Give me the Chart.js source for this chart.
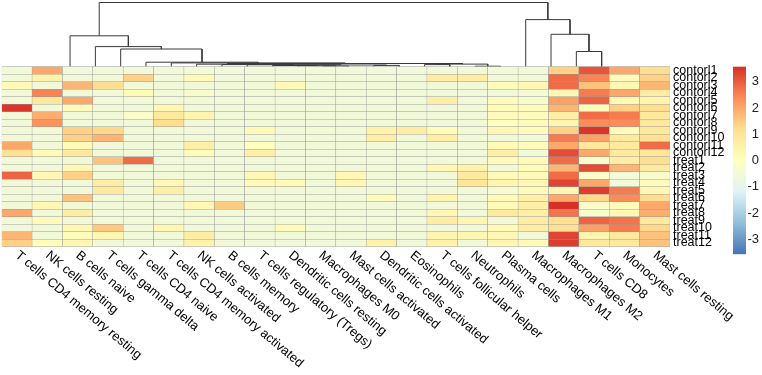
<!DOCTYPE html>
<html lang="en">
<head>
<meta charset="UTF-8">
<title>Immune cell heatmap</title>
<script src="https://cdn.jsdelivr.net/npm/chart.js"></script>
<style>
  html, body { margin: 0; padding: 0; background: #fff; }
</style>
</head>
<body>
<canvas id="heatmap" width="762" height="375"></canvas>
<script>
  // columns (cell types), in dendrogram order
  const cellTypes = [
    "T cells CD4 memory resting", "NK cells resting", "B cells naive", "T cells gamma delta",
    "T cells CD4 naive", "T cells CD4 memory activated", "NK cells activated", "B cells memory",
    "T cells regulatory (Tregs)", "Dendritic cells resting", "Macrophages M0", "Mast cells activated",
    "Dendritic cells activated", "Eosinophils", "T cells follicular helper", "Neutrophils",
    "Plasma cells", "Macrophages M1", "Macrophages M2", "T cells CD8", "Monocytes", "Mast cells resting"
  ];

  const sampleLabels = [
    "contorl1", "contorl2", "contorl3", "contorl4", "contorl5", "contorl6",
    "contorl7", "contorl8", "contorl9", "contorl10", "contorl11", "contorl12",
    "treat1", "treat2", "treat3", "treat4", "treat5", "treat6",
    "treat7", "treat8", "treat9", "treat10", "treat11", "treat12"
  ];

  // scaled values per sample, one row per sample, one value per cell type
  const controlValues = [
    [-0.55, 2.0, -0.55, -0.55, -0.55, -0.55, -0.5, -0.55, -0.55, -0.55, -0.55, -0.55, -0.55, -0.55, -0.55, -0.55, -0.55, -0.55, 1.4, 3.1, 2.0, 1.2],
    [-0.55, 0.5, -0.55, -0.55, 1.4, -0.55, 0.2, -0.55, -0.55, -0.55, -0.55, -0.55, -0.55, -0.55, 0.7, 0.7, -0.55, -0.55, 2.8, 2.5, 0.2, 1.4],
    [0.2, -0.55, 1.8, 1.2, -0.55, -0.55, -0.55, -0.55, -0.55, 0.2, -0.55, -0.55, -0.55, -0.55, -0.55, -0.55, 0.1, 0.3, 2.8, 1.6, 0.3, 1.8],
    [-0.55, 2.5, -0.55, -0.55, 0.2, -0.55, -0.3, -0.55, -0.55, -0.55, -0.55, -0.55, -0.55, -0.55, -0.55, -0.55, -0.55, -0.4, 0.3, 2.6, 2.0, 0.7],
    [-0.55, 0.9, 2.0, -0.55, -0.55, -0.55, -0.55, -0.55, -0.55, -0.55, -0.55, -0.55, -0.55, -0.55, 0.6, -0.55, 0.1, -0.3, 2.1, 2.9, 0.2, 0.4],
    [3.5, -0.55, 0.2, -0.55, -0.55, 0.3, -0.55, -0.55, -0.55, -0.55, -0.55, -0.55, -0.55, -0.55, -0.55, -0.55, 0.1, 0.1, 1.8, 0.2, 1.4, 1.2],
    [-0.55, 1.9, -0.55, -0.55, -0.2, 0.8, 0.4, -0.55, -0.55, -0.55, -0.55, -0.55, -0.55, -0.55, -0.55, -0.55, 0.1, 0.1, 0.6, 2.8, 2.6, 0.9],
    [-0.55, 2.3, -0.55, -0.55, -0.55, 1.2, -0.55, -0.55, -0.55, -0.55, -0.55, -0.55, -0.55, -0.55, -0.55, -0.55, 0.0, 0.1, 0.4, 2.4, 2.4, 0.9],
    [-0.55, -0.55, 1.4, 1.3, -0.55, -0.55, -0.55, -0.55, 0.2, -0.55, -0.45, -0.55, 0.5, 0.7, 0.1, -0.55, 0.3, 0.1, 1.4, 3.5, 0.1, 0.9],
    [-0.55, -0.55, 1.4, 1.8, -0.55, -0.55, -0.55, -0.55, -0.55, -0.55, -0.55, -0.55, 0.6, -0.55, 0.6, -0.55, -0.55, -0.55, 2.6, 2.1, 0.8, 1.1],
    [2.0, -0.55, 0.2, -0.55, -0.55, -0.55, 0.6, -0.55, 0.0, -0.55, -0.55, -0.55, -0.55, -0.55, -0.55, -0.55, 0.2, 0.1, 2.0, 0.9, 0.8, 2.8],
    [1.1, 0.2, 0.8, -0.55, -0.55, -0.55, 0.1, -0.55, 0.6, -0.55, -0.55, -0.55, -0.55, -0.55, -0.55, -0.55, 0.6, -0.55, 3.2, 2.0, 0.8, 0.9]
  ];

  const treatValues = [
    [-0.55, -0.55, -0.55, 1.6, 2.8, -0.55, -0.55, -0.55, -0.55, -0.55, -0.55, -0.55, -0.55, -0.55, -0.55, -0.55, 0.2, 0.2, 2.8, -0.3, 0.7, 1.2],
    [-0.55, -0.55, 0.3, -0.55, -0.55, -0.55, -0.55, -0.55, -0.55, -0.55, -0.55, -0.55, -0.55, -0.55, 0.3, 0.5, -0.55, 0.1, 1.8, 3.2, 1.8, 0.8],
    [2.9, 0.3, 1.4, -0.55, -0.55, -0.55, -0.55, -0.55, 0.3, -0.55, -0.55, 0.3, -0.55, -0.55, -0.55, 0.8, 0.2, 0.2, 2.8, -0.2, -0.5, -0.3],
    [-0.55, -0.55, -0.55, 0.7, -0.55, 0.3, -0.55, -0.55, 0.2, 0.2, -0.55, 0.3, -0.55, -0.55, -0.55, 1.0, 0.4, 0.3, 3.3, 2.0, -0.5, 0.1],
    [-0.55, -0.55, -0.55, 0.8, -0.55, 0.6, -0.55, -0.55, -0.55, -0.55, -0.55, -0.55, -0.55, -0.55, -0.55, -0.55, -0.4, 0.1, 0.3, 3.4, 2.6, 0.3],
    [-0.55, -0.55, 1.6, -0.55, -0.55, -0.55, -0.55, -0.55, -0.55, -0.55, -0.55, -0.55, 0.1, -0.55, 0.4, -0.55, 0.2, 0.6, 2.0, 1.3, 2.4, 1.2],
    [-0.55, 0.3, -0.55, -0.55, -0.55, -0.55, 0.3, 1.5, -0.55, -0.55, -0.55, -0.55, -0.55, -0.55, -0.55, -0.55, 0.2, 0.6, 3.6, -0.2, 0.1, 2.0],
    [2.0, -0.55, 0.7, -0.55, -0.55, -0.55, -0.55, -0.55, -0.55, -0.55, -0.55, -0.55, -0.55, -0.55, 0.3, -0.55, 0.8, 0.6, 2.7, -0.3, 0.3, 1.9],
    [-0.55, 0.2, -0.55, -0.55, -0.55, -0.55, -0.55, -0.55, -0.55, -0.55, -0.55, -0.55, -0.55, -0.55, 0.7, 0.4, -0.55, 0.7, 1.1, 2.9, 2.7, 0.8],
    [-0.55, -0.55, 0.3, 1.5, -0.55, 0.3, -0.55, -0.55, -0.55, 0.1, -0.55, -0.55, -0.55, -0.55, -0.55, -0.55, 0.2, 0.7, 1.1, 2.1, 2.6, 1.3],
    [1.8, -0.55, 0.1, 0.3, -0.55, -0.55, 0.7, -0.55, -0.55, -0.55, -0.55, -0.55, -0.55, -0.55, 0.4, 0.3, 0.3, -0.55, 3.3, 0.4, 0.8, 1.6],
    [1.4, 0.1, 0.3, -0.55, -0.55, -0.55, 0.5, -0.55, -0.55, -0.55, -0.55, -0.55, 0.5, -0.55, 0.5, -0.55, 0.3, 0.2, 3.4, 0.8, 0.8, 1.6]
  ];

  const legendTicks = [3, 2, 1, 0, -1, -2, -3];
  const valueRange = [-3.57, 3.57];
  const palette = ["#4575B4", "#91BFDB", "#E0F3F8", "#FFFFBF", "#FEE090", "#FC8D59", "#D73027"];

  // column dendrogram: [left, right, height]; a number is a column index, "mN" is merge N (1-based)
  const merges = [
    [10, 11, 0.6],
    [9, "m1", 0.9],
    [8, "m2", 1.2],
    [12, 13, 1.3],
    ["m3", "m4", 1.7],
    [7, "m5", 2.0],
    [6, "m6", 2.1],
    [5, "m7", 2.5],
    [14, 15, 2.1],
    [16, 17, 0.5],
    ["m9", "m10", 2.6],
    ["m8", "m11", 3.2],
    [4, "m12", 3.8],
    [3, "m13", 4.5],
    [2, "m14", 17.7],
    [1, "m15", 20.1],
    [0, "m16", 30.9],
    [20, 21, 15.2],
    [19, "m18", 32.4],
    [18, "m19", 47.1],
    ["m17", "m20", 64.2]
  ];

  const FONT = "Liberation Sans, Arial, sans-serif";
  const allValues = controlValues.concat(treatValues);
  const nRows = allValues.length;

  function hexToRgb(h) {
    const n = parseInt(h.slice(1), 16);
    return [(n >> 16) & 255, (n >> 8) & 255, n & 255];
  }
  const paletteRgb = palette.map(hexToRgb);

  function colorFor(v) {
    const t = Math.min(1, Math.max(0, (v - valueRange[0]) / (valueRange[1] - valueRange[0])));
    const pos = t * (paletteRgb.length - 1);
    const i = Math.min(paletteRgb.length - 2, Math.floor(pos));
    const f = pos - i;
    const a = paletteRgb[i], b = paletteRgb[i + 1];
    const c = a.map((x, k) => Math.round(x + (b[k] - x) * f));
    return `rgb(${c[0]},${c[1]},${c[2]})`;
  }

  // heatmap rows as floating bars
  const heatDatasets = allValues.map((row, r) => ({
    type: "bar",
    label: sampleLabels[r],
    data: row.map(() => [nRows - 1 - r, nRows - r]),
    backgroundColor: row.map(colorFor),
    borderColor: "#999999",
    borderWidth: 0.5,
    borderSkipped: false,
    barPercentage: 1,
    categoryPercentage: 1,
    grouped: false,
    xAxisID: "x",
    yAxisID: "y"
  }));

  // dendrogram segments
  const nodeX = [], nodeH = [];
  function childPos(c) {
    if (typeof c === "number") return [c, 0];
    const k = parseInt(c.slice(1), 10) - 1;
    return [nodeX[k], nodeH[k]];
  }
  const dendroDatasets = merges.map(([l, r, h], k) => {
    const [xl, hl] = childPos(l);
    const [xr, hr] = childPos(r);
    nodeX[k] = (xl + xr) / 2;
    nodeH[k] = h;
    return {
      type: "line",
      data: [{ x: xl, y: hl }, { x: xl, y: h }, { x: xr, y: h }, { x: xr, y: hr }],
      borderColor: "#3a3a3a",
      borderWidth: 1,
      pointRadius: 0,
      fill: false,
      tension: 0,
      xAxisID: "xd",
      yAxisID: "yd"
    };
  });

  const extras = {
    id: "extras",
    afterDraw(chart) {
      const { ctx, scales: { x, y } } = chart;
      const bottom = y.getPixelForValue(0);
      const top = y.getPixelForValue(nRows);

      // rotated column labels
      ctx.save();
      ctx.fillStyle = "#000";
      ctx.font = `13px ${FONT}`;
      ctx.textAlign = "left";
      ctx.textBaseline = "middle";
      cellTypes.forEach((name, i) => {
        ctx.save();
        ctx.translate(x.getPixelForValue(i), bottom + 7);
        ctx.rotate(40 * Math.PI / 180);
        ctx.fillText(name, 0, 0);
        ctx.restore();
      });
      ctx.restore();

      // colour key
      const lx = 733, lw = 13, lTop = top, lBot = top + 187.5;
      const grad = ctx.createLinearGradient(0, lBot, 0, lTop);
      palette.forEach((c, i) => grad.addColorStop(i / (palette.length - 1), c));
      ctx.save();
      ctx.fillStyle = grad;
      ctx.fillRect(lx, lTop, lw, lBot - lTop);
      ctx.fillStyle = "#222";
      ctx.font = `13px ${FONT}`;
      ctx.textAlign = "right";
      ctx.textBaseline = "middle";
      legendTicks.forEach(v => {
        const py = lTop + (valueRange[1] - v) / (valueRange[1] - valueRange[0]) * (lBot - lTop);
        ctx.fillText(String(v), 759, py);
      });
      ctx.restore();
    }
  };

  new Chart(document.getElementById("heatmap"), {
    type: "bar",
    data: { labels: cellTypes, datasets: heatDatasets.concat(dendroDatasets) },
    options: {
      responsive: false,
      animation: false,
      layout: { padding: { left: 1.7, top: 1, right: 0, bottom: 128.3 } },
      plugins: { legend: { display: false }, tooltip: { enabled: false } },
      scales: {
        x: { type: "category", offset: true, display: false },
        xd: { type: "linear", axis: "x", min: -0.5, max: 21.5, display: false },
        y: {
          type: "linear",
          position: "right",
          min: 0,
          max: 32.76,
          grid: { display: false, drawTicks: false },
          border: { display: false },
          ticks: {
            autoSkip: false,
            padding: 3,
            color: "#000",
            font: { family: FONT, size: 12.5 },
            callback: (v, i) => sampleLabels[i]
          },
          afterBuildTicks: s => { s.ticks = sampleLabels.map((_, i) => ({ value: nRows - 0.5 - i })); },
          afterFit: s => { s.width = 92; s.paddingTop = 0; s.paddingBottom = 0; }
        },
        yd: { type: "linear", axis: "y", min: -180, max: 65.7, display: false }
      }
    },
    plugins: [extras]
  });
</script>
</body>
</html>
